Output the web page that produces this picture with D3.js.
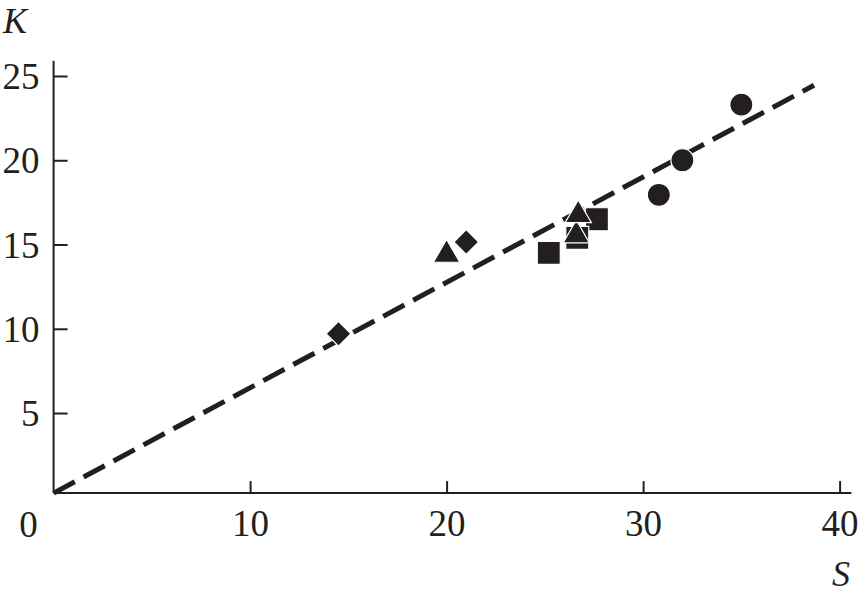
<!DOCTYPE html>
<html><head><meta charset="utf-8">
<script src="https://cdn.jsdelivr.net/npm/d3@7"></script>
<style>body{margin:0;background:#fff}svg{display:block}</style>
</head><body>
<script>
const xTicks = [10, 20, 30, 40];
const yTicks = [5, 10, 15, 20, 25];
const circles = [[35.0, 23.3], [32.0, 20.0], [30.8, 17.95]];
const squares = [[25.2, 14.5], [27.65, 16.5], [26.65, 15.4]];
const triangles = [[20.0, 14.4], [26.6, 15.55], [26.7, 16.75]];
const diamonds = [[21.0, 15.15], [14.5, 9.7]];
const fitLine = [[0, 0.25], [38.7, 24.45]];
const axisMin = {x: 0, y: 0.25};
const axisMax = {x: 40.6, y: 25.9};

const W = 859, H = 597;
const svg = d3.select("body").append("svg").attr("width", W).attr("height", H);
const x = d3.scaleLinear().domain([0, 40]).range([53.6, 839.6]);
const y = d3.scaleLinear().domain([0, 25]).range([497.3, 76]);
const font = "'Liberation Serif','Times New Roman',serif";

// axes
const gx = svg.append("g").attr("transform", `translate(0,${y(axisMin.y)})`);
gx.call(d3.axisBottom(x).tickValues(xTicks).tickSize(-12).tickPadding(17).tickFormat(d3.format("d")));
const gy = svg.append("g").attr("transform", `translate(${x(axisMin.x)},0)`);
gy.call(d3.axisLeft(y).tickValues(yTicks).tickSize(-14).tickPadding(14).tickFormat(d3.format("d")));
[gx, gy].forEach(g => {
  g.select(".domain").remove();
  g.selectAll(".tick line").attr("stroke", "#231f20").attr("stroke-width", 2);
  g.selectAll(".tick text").attr("fill", "#231f20").style("font-family", font).style("font-size", "37px");
});
gx.selectAll(".tick text").attr("dy", "0.71em");
gy.selectAll(".tick text").attr("dy", "0.34em");
// axis lines
svg.append("line").attr("x1", x(axisMin.x)).attr("x2", x(axisMax.x))
  .attr("y1", y(axisMin.y)).attr("y2", y(axisMin.y)).attr("stroke", "#231f20").attr("stroke-width", 2);
svg.append("line").attr("x1", x(axisMin.x)).attr("x2", x(axisMin.x))
  .attr("y1", y(axisMin.y)).attr("y2", y(axisMax.y)).attr("stroke", "#231f20").attr("stroke-width", 2);

// labels
svg.append("text").attr("x", x(axisMin.x) - 25).attr("y", y(axisMin.y) + 44).attr("text-anchor", "middle")
  .style("font-family", font).style("font-size", "37px").attr("fill", "#231f20").text("0");
svg.append("text").attr("x", 3).attr("y", 33).style("font-family", font).style("font-style", "italic")
  .style("font-size", "36px").attr("fill", "#231f20").text("K");
svg.append("text").attr("x", 832).attr("y", 586).style("font-family", font).style("font-style", "italic")
  .style("font-size", "36px").attr("fill", "#231f20").text("S");

// fit line
svg.append("path").datum(fitLine)
  .attr("d", d3.line().x(d => x(d[0])).y(d => y(d[1])))
  .attr("fill", "none").attr("stroke", "#231f20").attr("stroke-width", 5)
  .attr("stroke-dasharray", "24,10");

// markers
const mk = (data, type, size, rot) => svg.append("g").selectAll("path").data(data).join("path")
  .attr("transform", d => `translate(${x(d[0])},${y(d[1])}) rotate(${rot || 0})`)
  .attr("d", d3.symbol().type(type).size(size)())
  .attr("fill", "#231f20").attr("stroke", "#fff").attr("stroke-width", 1.2);
mk(squares, d3.symbolSquare, 23 * 23);
mk(triangles, d3.symbolTriangle, 300);
mk(diamonds, d3.symbolSquare, 17.5 * 17.5, 45);
mk(circles, d3.symbolCircle, Math.PI * 11.5 * 11.5);
</script>
</body></html>
